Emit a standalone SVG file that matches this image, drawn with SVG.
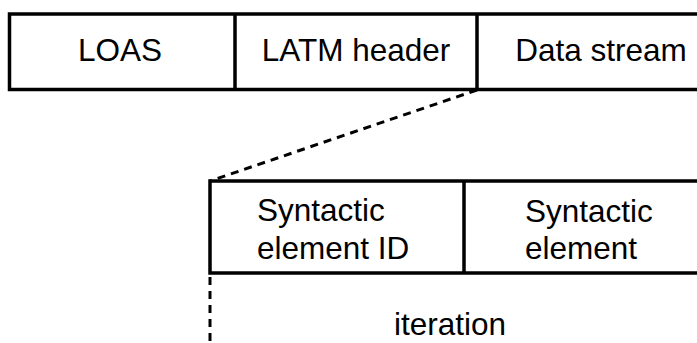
<svg xmlns="http://www.w3.org/2000/svg" width="697" height="343" viewBox="0 0 697 343">
<style>
.box{fill:#fff;stroke:#000;stroke-width:3.5}
.div{stroke:#000;stroke-width:3.5}
.t{font-family:"Liberation Sans",Arial,sans-serif;font-size:31.5px;fill:#000}
.dash{fill:none;stroke:#000;stroke-width:3;stroke-dasharray:8 6}
</style>
<rect width="697" height="343" fill="#fff"/>
<g id="connectors">
<line class="dash" x1="477" y1="90" x2="210" y2="181"/>
<line class="dash" x1="210" y1="277" x2="210" y2="343"/>
</g>
<g id="frame-top">
<rect class="box" x="9.5" y="14" width="720" height="75.5"/>
</g>
<g id="loas">
<text class="t" x="120" y="61" text-anchor="middle">LOAS</text>
</g>
<g id="latm-header">
<line class="div" x1="235" y1="14" x2="235" y2="89.5"/>
<text class="t" x="356" y="61" text-anchor="middle">LATM header</text>
</g>
<g id="data-stream">
<line class="div" x1="477" y1="14" x2="477" y2="89.5"/>
<text class="t" x="601" y="61" text-anchor="middle">Data stream</text>
</g>
<g id="frame-bottom">
<rect class="box" x="210" y="181" width="520" height="92"/>
</g>
<g id="syntactic-element-id">
<text class="t" x="257" y="221">Syntactic</text>
<text class="t" x="257" y="259">element ID</text>
</g>
<g id="syntactic-element">
<line class="div" x1="464" y1="181" x2="464" y2="273"/>
<text class="t" x="525" y="222">Syntactic</text>
<text class="t" x="525" y="259">element</text>
</g>
<g id="iteration">
<text class="t" x="450" y="335" text-anchor="middle">iteration</text>
</g>
</svg>
